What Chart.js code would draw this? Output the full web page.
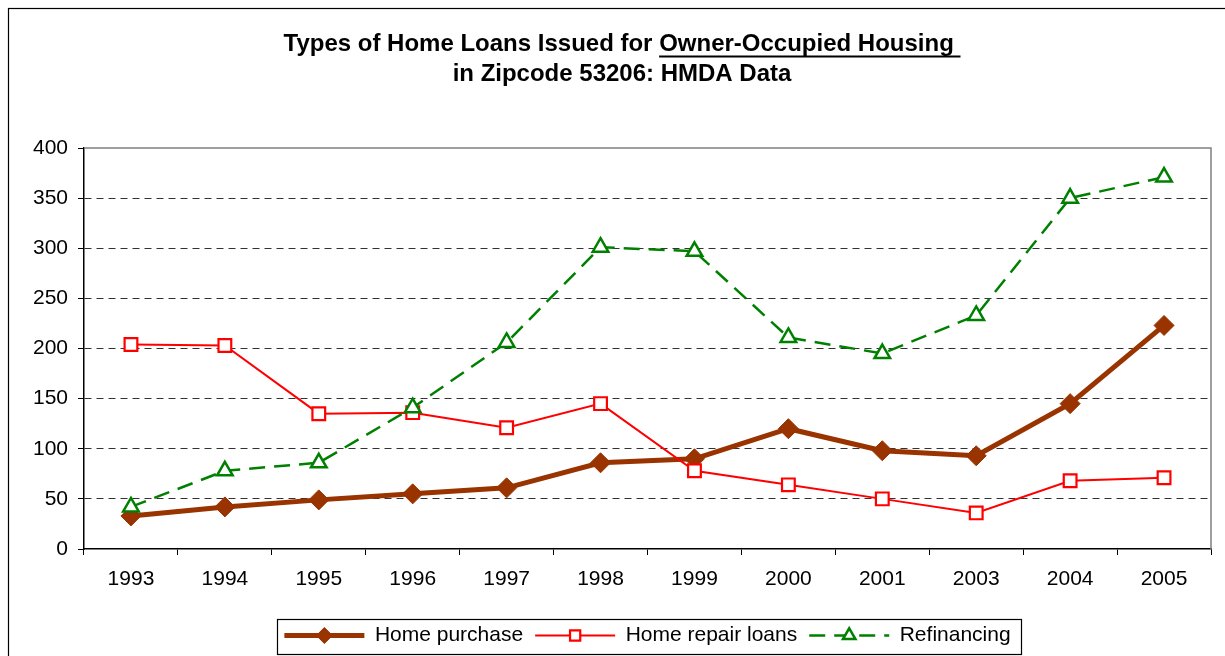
<!DOCTYPE html>
<html>
<head>
<meta charset="utf-8">
<script src="https://cdn.jsdelivr.net/npm/chart.js@4.4.0/dist/chart.umd.min.js"></script>
<style>
  html, body { margin: 0; padding: 0; background: #fff; }
  canvas { display: block; }
</style>
</head>
<body>
<canvas id="chart" width="1225" height="656"></canvas>
<script>
// data
const YEARS          = ['1993', '1994', '1995', '1996', '1997', '1998', '1999', '2000', '2001', '2003', '2004', '2005'];
const HOME_PURCHASE  = [33, 42, 49, 55, 61, 86, 90, 120, 98, 93, 145, 223];
const HOME_REPAIR    = [204, 203, 135, 136, 121, 145, 78, 64, 50, 36, 68, 71];
const REFINANCING    = [42, 78, 86, 141, 206, 301, 297, 211, 195, 233, 350, 371];
const SERIES_NAMES   = ['Home purchase', 'Home repair loans', 'Refinancing'];
const TITLE_PREFIX   = 'Types of Home Loans Issued for ';
const TITLE_UNDER    = 'Owner-Occupied Housing ';
const TITLE_LINE2    = 'in Zipcode 53206: HMDA Data';
const Y_MIN = 0, Y_MAX = 400, Y_STEP = 50;

const FONT   = "'Liberation Sans', Arial, sans-serif";
const BROWN  = '#993300';
const RED    = '#FF0000';
const GREEN  = '#008000';

// ── outer frame + white background ─────────────────────────────
const framePlugin = {
  id: 'frame',
  beforeDraw(chart) {
    const ctx = chart.ctx;
    ctx.save();
    ctx.fillStyle = '#fff';
    ctx.fillRect(0, 0, chart.width, chart.height);
    ctx.strokeStyle = '#000';
    ctx.lineWidth = 1.2;
    ctx.strokeRect(8.5, 8.5, chart.width + 40, chart.height + 40);
    ctx.restore();
  },
  // grey plot-area border on top and right
  beforeDatasetsDraw(chart) {
    const { ctx, chartArea: a } = chart;
    ctx.save();
    ctx.strokeStyle = '#808080';
    ctx.lineWidth = 1.5;
    ctx.beginPath();
    ctx.moveTo(a.left, a.top);
    ctx.lineTo(a.right, a.top);
    ctx.lineTo(a.right, a.bottom);
    ctx.stroke();
    ctx.restore();
  }
};

// ── title with underlined part ─────────────────────────────────
const titlePlugin = {
  id: 'uTitle',
  afterDraw(chart) {
    const ctx = chart.ctx;
    const cx = 622;
    ctx.save();
    ctx.font = 'bold 24px ' + FONT;
    ctx.fillStyle = '#000';
    ctx.textBaseline = 'middle';
    ctx.textAlign = 'center';
    const line1 = TITLE_PREFIX + TITLE_UNDER;
    ctx.fillText(line1, cx, 44);
    ctx.fillText(TITLE_LINE2, cx, 74);
    const full = ctx.measureText(line1).width;
    const pre  = ctx.measureText(TITLE_PREFIX).width;
    const x0 = cx - full / 2 + pre;
    const x1 = cx + full / 2;
    ctx.strokeStyle = '#000';
    ctx.lineWidth = 1.8;
    ctx.beginPath();
    ctx.moveTo(x0, 56.5);
    ctx.lineTo(x1, 56.5);
    ctx.stroke();
    ctx.restore();
  }
};

// ── legend samples (line + marker) and legend border ──────────
const legendPlugin = {
  id: 'legendSamples',
  afterDraw(chart) {
    const lg = chart.legend;
    if (!lg || !lg.legendHitBoxes) return;
    const ctx = chart.ctx;
    const boxes = lg.legendHitBoxes;
    const bw = lg.options.labels.boxWidth;
    let cy = 0;
    boxes.forEach((b, i) => {
      const ds = chart.data.datasets[i];
      cy = b.top + b.height / 2;
      ctx.save();
      ctx.strokeStyle = ds.borderColor;
      ctx.lineWidth = ds.borderWidth;
      ctx.setLineDash(ds.borderDash || []);
      ctx.beginPath();
      ctx.moveTo(b.left, cy);
      ctx.lineTo(b.left + bw, cy);
      ctx.stroke();
      ctx.setLineDash([]);
      ctx.fillStyle = ds.pointBackgroundColor;
      ctx.strokeStyle = ds.pointBorderColor;
      ctx.lineWidth = ds.pointBorderWidth;
      Chart.helpers.drawPoint(ctx, {
        pointStyle: ds.pointStyle,
        radius: ds.pointRadius * 0.8,
        borderWidth: ds.pointBorderWidth,
        rotation: 0
      }, b.left + bw / 2, cy);
      ctx.restore();
    });
    const first = boxes[0], last = boxes[boxes.length - 1];
    ctx.save();
    ctx.strokeStyle = '#000';
    ctx.lineWidth = 1.2;
    ctx.strokeRect(Math.round(first.left - 7) + 0.5, Math.round(cy - 17) + 0.5,
      Math.round(last.left + last.width + 11 - (first.left - 7)), 35);
    ctx.restore();
  }
};

const datasets = [
  {
    label: SERIES_NAMES[0],
    data: HOME_PURCHASE,
    borderColor: BROWN,
    backgroundColor: BROWN,
    borderWidth: 5,
    pointStyle: 'rectRot',
    pointRadius: 10,
    pointHoverRadius: 10,
    pointBackgroundColor: BROWN,
    pointBorderColor: BROWN,
    pointBorderWidth: 1,
    tension: 0,
    order: 2
  },
  {
    label: SERIES_NAMES[1],
    data: HOME_REPAIR,
    borderColor: RED,
    backgroundColor: '#fff',
    borderWidth: 2,
    pointStyle: 'rect',
    pointRadius: 9,
    pointHoverRadius: 9,
    pointBackgroundColor: '#fff',
    pointBorderColor: RED,
    pointBorderWidth: 2.2,
    tension: 0,
    order: 1
  },
  {
    label: SERIES_NAMES[2],
    data: REFINANCING,
    borderColor: GREEN,
    backgroundColor: '#fff',
    borderWidth: 2.5,
    borderDash: [16, 9],
    pointStyle: 'triangle',
    pointRadius: 9,
    pointHoverRadius: 9,
    pointBackgroundColor: '#fff',
    pointBorderColor: GREEN,
    pointBorderWidth: 2.5,
    tension: 0,
    order: 0
  }
];

const hideEdge = c => (c.tick && (c.tick.value === Y_MIN || c.tick.value === Y_MAX)) ? 'rgba(0,0,0,0)' : '#333';

new Chart(document.getElementById('chart').getContext('2d'), {
  type: 'line',
  data: { labels: YEARS, datasets },
  plugins: [framePlugin, titlePlugin, legendPlugin],
  options: {
    responsive: false,
    devicePixelRatio: 1,
    animation: false,
    layout: { padding: { left: 0, right: 14, top: 148, bottom: 0 } },
    plugins: {
      title: { display: false },
      tooltip: { enabled: false },
      legend: {
        position: 'bottom',
        fullSize: false,
        labels: {
          font: { family: FONT, size: 21 },
          color: '#000',
          boxWidth: 80,
          boxHeight: 20,
          padding: 12,
          generateLabels(chart) {
            return chart.data.datasets.map((d, i) => ({
              text: d.label,
              fillStyle: 'rgba(0,0,0,0)',
              strokeStyle: 'rgba(0,0,0,0)',
              lineWidth: 0,
              datasetIndex: i,
              hidden: false
            }));
          }
        }
      }
    },
    scales: {
      x: {
        offset: true,
        grid: {
          offset: true,
          drawOnChartArea: false,
          drawTicks: true,
          tickLength: 6,
          tickColor: '#000',
          color: '#000'
        },
        border: { display: true, color: '#000', width: 1.5 },
        ticks: {
          font: { family: FONT, size: 21 },
          color: '#000',
          padding: 12,
          maxRotation: 0,
          autoSkip: false
        },
        afterFit(s) { s.height = 64; }
      },
      y: {
        min: Y_MIN,
        max: Y_MAX,
        ticks: {
          stepSize: Y_STEP,
          font: { family: FONT, size: 21 },
          color: '#000',
          padding: 10
        },
        grid: {
          color: hideEdge,
          lineWidth: 1,
          tickColor: '#000',
          tickLength: 6
        },
        border: { display: true, color: '#000', width: 1.5, dash: [7, 5] },
        afterFit(s) { s.width = 84; }
      }
    }
  }
});
</script>
</body>
</html>
